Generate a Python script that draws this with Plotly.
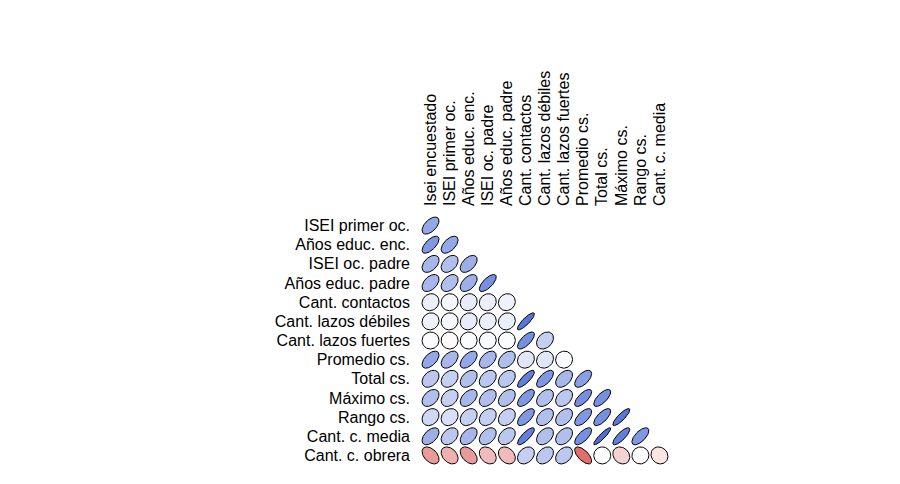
import numpy as np
import plotly.graph_objects as go
from plotly.colors import sample_colorscale

col_labels = ["Isei encuestado", "ISEI primer oc.", "Años educ. enc.", "ISEI oc. padre",
              "Años educ. padre", "Cant. contactos", "Cant. lazos débiles",
              "Cant. lazos fuertes", "Promedio cs.", "Total cs.", "Máximo cs.",
              "Rango cs.", "Cant. c. media"]
row_labels = ["ISEI primer oc.", "Años educ. enc.", "ISEI oc. padre", "Años educ. padre",
              "Cant. contactos", "Cant. lazos débiles", "Cant. lazos fuertes",
              "Promedio cs.", "Total cs.", "Máximo cs.", "Rango cs.",
              "Cant. c. media", "Cant. c. obrera"]

# lower-triangle correlations, one list per row
r_isei_primer = [0.55]
r_anos_enc = [0.65, 0.55]
r_isei_padre = [0.45, 0.40, 0.50]
r_anos_padre = [0.45, 0.40, 0.50, 0.70]
r_contactos = [0.10, 0.05, 0.12, 0.10, 0.08]
r_debiles = [0.08, 0.05, 0.12, 0.10, 0.10, 0.85]
r_fuertes = [0.02, -0.02, 0.02, 0.03, 0.02, 0.70, 0.30]
r_promedio = [0.55, 0.45, 0.55, 0.45, 0.40, 0.15, 0.15, 0.03]
r_total = [0.35, 0.30, 0.40, 0.35, 0.35, 0.80, 0.65, 0.45, 0.60]
r_maximo = [0.40, 0.30, 0.45, 0.40, 0.40, 0.65, 0.40, 0.35, 0.70, 0.70]
r_rango = [0.25, 0.20, 0.30, 0.30, 0.30, 0.65, 0.40, 0.40, 0.65, 0.70, 0.85]
r_media = [0.50, 0.35, 0.45, 0.40, 0.35, 0.80, 0.40, 0.40, 0.70, 0.90, 0.80, 0.65]
r_obrera = [-0.45, -0.35, -0.45, -0.30, -0.30, 0.30, 0.35, 0.35, -0.65, 0.00, -0.20, 0.02, -0.12]

rows = [r_isei_primer, r_anos_enc, r_isei_padre, r_anos_padre, r_contactos, r_debiles,
        r_fuertes, r_promedio, r_total, r_maximo, r_rango, r_media, r_obrera]

colorscale = [[0.0, "rgb(210,30,30)"], [0.5, "rgb(255,255,255)"], [1.0, "rgb(60,95,210)"]]

t = np.linspace(0, 2 * np.pi, 99)
scale = 0.89

fig = go.Figure()
for i, row in enumerate(rows):
    for j, r in enumerate(row):
        d = np.arccos(r)
        ex = scale * np.cos(t + d / 2) / 2
        ey = scale * np.cos(t - d / 2) / 2
        color = sample_colorscale(colorscale, [(r + 1) / 2])[0]
        fig.add_trace(go.Scatter(
            x=j + ex, y=i - ey, mode="lines", fill="toself",
            fillcolor=color, line=dict(color="black", width=1),
            hoverinfo="skip", showlegend=False))

fig.update_layout(
    width=900, height=484,
    margin=dict(l=413, r=239, t=208, b=27),
    paper_bgcolor="white", plot_bgcolor="white",
    font=dict(family="Arial, Liberation Sans, sans-serif", size=16, color="black"),
    showlegend=False,
)
fig.update_xaxes(range=[-0.5, 12.5], side="top", tickvals=list(range(13)),
                 ticktext=col_labels, tickangle=-90, showgrid=False, zeroline=False,
                 showline=False, ticks="", ticklabelstandoff=9, automargin=False,
                 fixedrange=True)
fig.update_yaxes(range=[12.5, -0.5], tickvals=list(range(13)), ticktext=row_labels,
                 showgrid=False, zeroline=False, showline=False, ticks="",
                 ticklabelstandoff=10, automargin=False, fixedrange=True)

fig.write_html("out.html")
